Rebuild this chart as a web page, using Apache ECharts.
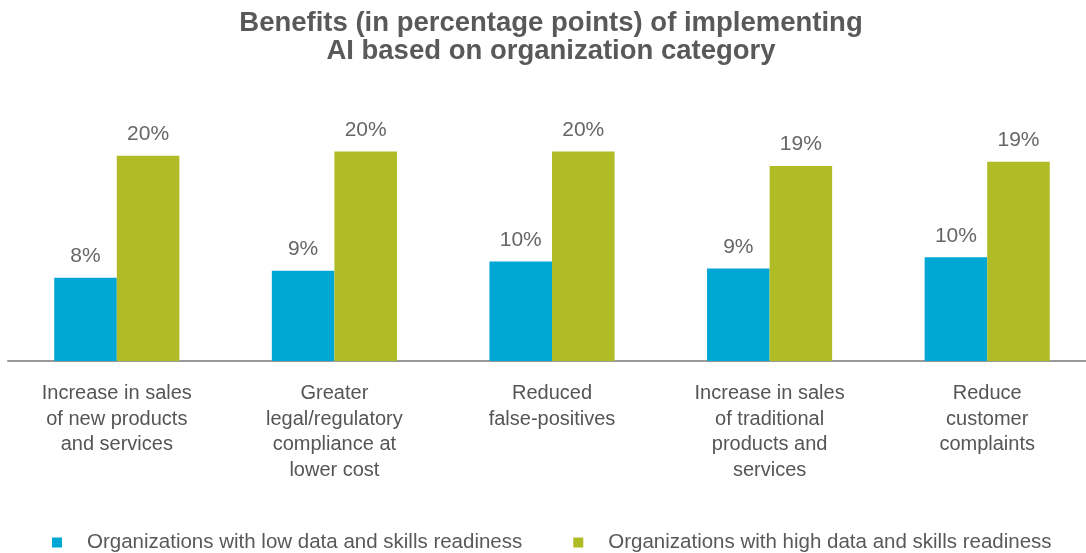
<!DOCTYPE html>
<html>
<head>
<meta charset="utf-8">
<script src="https://cdn.jsdelivr.net/npm/echarts@6/dist/echarts.min.js"></script>
<style>
  html, body { margin: 0; padding: 0; background: #fff; }
  #benefitsChart { width: 1086px; height: 553px; }
</style>
</head>
<body>
<div id="benefitsChart"></div>
<script>
// categories on the x axis (line breaks as in the picture)
const categories = [
  'Increase in sales\nof new products\nand services',
  'Greater\nlegal/regulatory\ncompliance at\nlower cost',
  'Reduced\nfalse-positives',
  'Increase in sales\nof traditional\nproducts and\nservices',
  'Reduce\ncustomer\ncomplaints'
]
const seriesNames = [
  'Organizations with low data and skills readiness',
  'Organizations with high data and skills readiness'
]
// values
const lowReadiness = [8.1, 8.8, 9.7, 9.0, 10.1]
const highReadiness = [20.0, 20.4, 20.4, 19.0, 19.4]

let myChart = echarts.init(document.getElementById('benefitsChart'))
const font = '"Liberation Sans", Arial, sans-serif'

let labelStyle = {
  show: true,
  position: 'top',
  distance: 11,
  color: '#666',
  fontSize: 21,
  fontFamily: font,
  formatter: (params) => Math.round(params.value) + '%'
}

let option = {
  animation: false,
  title: {
    text: 'Benefits (in percentage points) of implementing\nAI based on organization category',
    left: 546,
    textAlign: 'center',
    top: 4,
    textStyle: {
      color: '#595959',
      fontSize: 27.5,
      fontWeight: 'bold',
      fontFamily: font,
      lineHeight: 28
    }
  },
  legend: {
    left: 47,
    top: 527,
    itemWidth: 10,
    itemHeight: 10,
    itemGap: 51,
    icon: 'rect',
    textStyle: {
      color: '#595959',
      fontSize: 20.5,
      fontFamily: font,
      padding: [0, 0, 0, 20]
    },
    data: seriesNames
  },
  grid: {
    left: 8,
    width: 1088,
    top: 53,
    bottom: 192,
    outerBoundsMode: 'none',
    containLabel: false
  },
  xAxis: {
    type: 'category',
    data: categories,
    axisTick: { show: false },
    axisLine: {
      lineStyle: { color: '#999', width: 2 }
    },
    axisLabel: {
      interval: 0,
      margin: 20,
      color: '#555',
      fontSize: 20,
      lineHeight: 25.5,
      fontFamily: font,
      verticalAlign: 'top'
    }
  },
  yAxis: {
    type: 'value',
    min: 0,
    max: 30,
    show: false,
    splitLine: { show: false }
  },
  series: [
    {
      name: seriesNames[0],
      type: 'bar',
      data: lowReadiness,
      barGap: '0%',
      barCategoryGap: '42.5%',
      itemStyle: { color: '#00A6D4' },
      label: labelStyle
    },
    {
      name: seriesNames[1],
      type: 'bar',
      data: highReadiness,
      itemStyle: { color: '#AFBC26' },
      label: labelStyle
    }
  ]
}
myChart.setOption(option)
</script>
</body>
</html>
